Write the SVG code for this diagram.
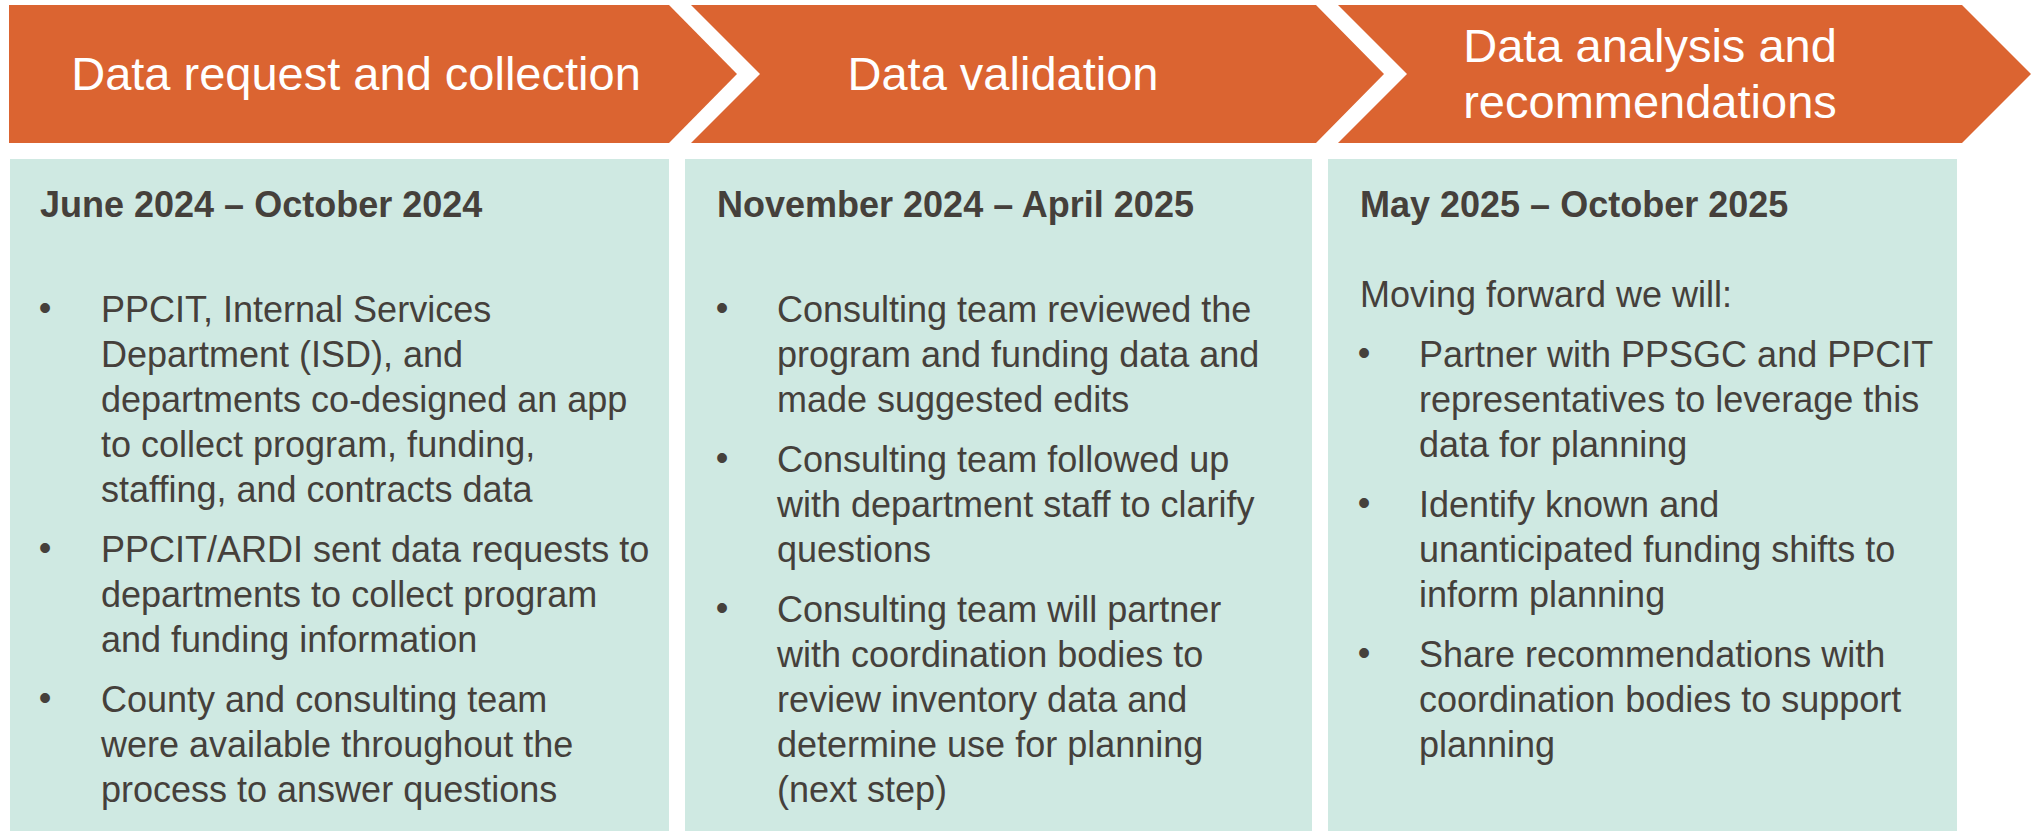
<svg xmlns="http://www.w3.org/2000/svg" width="2031" height="831" viewBox="0 0 2031 831">
<style>
.chev{fill:#DB6431}
.panel{fill:#CFE9E2}
.title{font-family:"Liberation Sans",Arial,sans-serif;font-size:47px;fill:#FFFFFF;text-anchor:middle}
.hdr{font-family:"Liberation Sans",Arial,sans-serif;font-size:36px;font-weight:bold;fill:#45403B}
.body{font-family:"Liberation Sans",Arial,sans-serif;font-size:36px;fill:#45403B}
.bul{font-family:"Liberation Sans",Arial,sans-serif;font-size:36px;fill:#45403B;text-anchor:middle}
</style>
<rect width="2031" height="831" fill="#FFFFFF"/>
<g id="connectors"></g>
<g id="step1">
<polygon class="chev" points="9,5 669,5 737,74 669,143 9,143"/>
<text class="title" x="356" y="90">Data request and collection</text>
</g>
<g id="step2">
<polygon class="chev" points="691,5 1316,5 1384,74 1316,143 691,143 760,74"/>
<text class="title" x="1003" y="90">Data validation</text>
</g>
<g id="step3">
<polygon class="chev" points="1338,5 1962,5 2031,74 1962,143 1338,143 1407,74"/>
<text class="title" x="1650" y="62">Data analysis and</text>
<text class="title" x="1650" y="118">recommendations</text>
</g>
<g id="panel1">
<rect class="panel" x="10" y="159" width="659" height="672"/>
<text class="hdr" x="40" y="217">June 2024 – October 2024</text>
<text class="bul" x="45" y="320">•</text>
<text class="body" x="101" y="322">PPCIT, Internal Services</text>
<text class="body" x="101" y="367">Department (ISD), and</text>
<text class="body" x="101" y="412">departments co-designed an app</text>
<text class="body" x="101" y="457">to collect program, funding,</text>
<text class="body" x="101" y="502">staffing, and contracts data</text>
<text class="bul" x="45" y="560">•</text>
<text class="body" x="101" y="562">PPCIT/ARDI sent data requests to</text>
<text class="body" x="101" y="607">departments to collect program</text>
<text class="body" x="101" y="652">and funding information</text>
<text class="bul" x="45" y="710">•</text>
<text class="body" x="101" y="712">County and consulting team</text>
<text class="body" x="101" y="757">were available throughout the</text>
<text class="body" x="101" y="802">process to answer questions</text>
</g>
<g id="panel2">
<rect class="panel" x="685" y="159" width="627" height="672"/>
<text class="hdr" x="717" y="217">November 2024 – April 2025</text>
<text class="bul" x="722" y="320">•</text>
<text class="body" x="777" y="322">Consulting team reviewed the</text>
<text class="body" x="777" y="367">program and funding data and</text>
<text class="body" x="777" y="412">made suggested edits</text>
<text class="bul" x="722" y="470">•</text>
<text class="body" x="777" y="472">Consulting team followed up</text>
<text class="body" x="777" y="517">with department staff to clarify</text>
<text class="body" x="777" y="562">questions</text>
<text class="bul" x="722" y="620">•</text>
<text class="body" x="777" y="622">Consulting team will partner</text>
<text class="body" x="777" y="667">with coordination bodies to</text>
<text class="body" x="777" y="712">review inventory data and</text>
<text class="body" x="777" y="757">determine use for planning</text>
<text class="body" x="777" y="802">(next step)</text>
</g>
<g id="panel3">
<rect class="panel" x="1328" y="159" width="629" height="672"/>
<text class="hdr" x="1360" y="217">May 2025 – October 2025</text>
<text class="body" x="1360" y="307">Moving forward we will:</text>
<text class="bul" x="1364" y="365">•</text>
<text class="body" x="1419" y="367">Partner with PPSGC and PPCIT</text>
<text class="body" x="1419" y="412">representatives to leverage this</text>
<text class="body" x="1419" y="457">data for planning</text>
<text class="bul" x="1364" y="515">•</text>
<text class="body" x="1419" y="517">Identify known and</text>
<text class="body" x="1419" y="562">unanticipated funding shifts to</text>
<text class="body" x="1419" y="607">inform planning</text>
<text class="bul" x="1364" y="665">•</text>
<text class="body" x="1419" y="667">Share recommendations with</text>
<text class="body" x="1419" y="712">coordination bodies to support</text>
<text class="body" x="1419" y="757">planning</text>
</g>
</svg>
